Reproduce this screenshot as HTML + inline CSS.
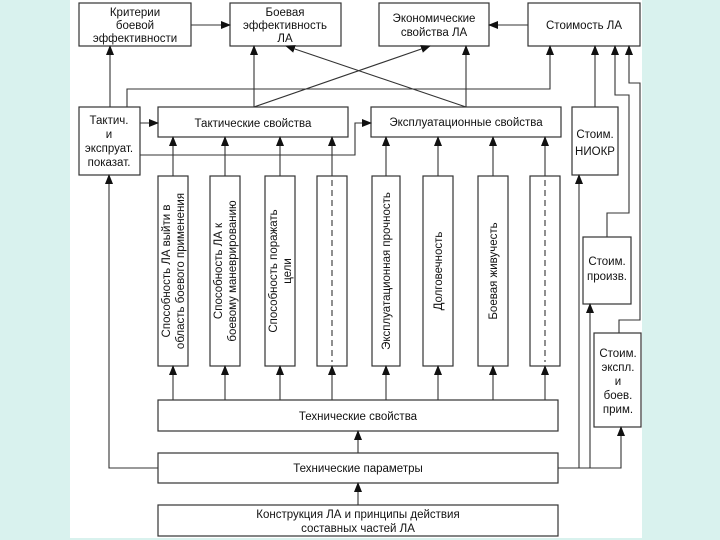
<!DOCTYPE html>
<html><head><meta charset="utf-8"><style>
html,body{margin:0;padding:0;background:#d9f2ee;}
svg{display:block;}
text{font-family:"Liberation Sans",sans-serif;font-size:11.5px;fill:#111;}
</style></head><body>
<svg width="720" height="540" viewBox="0 0 720 540" xmlns="http://www.w3.org/2000/svg">
<defs>
<marker id="a" markerWidth="10" markerHeight="8" refX="9" refY="4" orient="auto" markerUnits="userSpaceOnUse">
<path d="M0,0 L10,4 L0,8 z" fill="#111"/></marker>
</defs>
<rect x="70" y="0" width="572" height="538" fill="#fff"/>
<g fill="#fff" stroke="#333" stroke-width="1.2">
<rect x="79" y="3" width="112" height="43"/>
<rect x="230" y="3" width="111" height="43"/>
<rect x="379" y="3" width="110" height="43"/>
<rect x="528" y="3" width="112" height="43"/>
<rect x="79" y="107" width="61" height="68"/>
<rect x="158" y="107" width="190" height="30"/>
<rect x="371" y="107" width="190" height="30"/>
<rect x="572" y="107" width="46" height="68"/>
<rect x="583" y="237" width="48" height="67"/>
<rect x="594" y="333" width="47" height="94"/>
<rect x="158" y="176" width="30" height="190"/>
<rect x="210" y="176" width="30" height="190"/>
<rect x="265" y="176" width="30" height="190"/>
<rect x="317" y="176" width="30" height="190"/>
<rect x="372" y="176" width="28" height="190"/>
<rect x="423" y="176" width="30" height="190"/>
<rect x="478" y="176" width="30" height="190"/>
<rect x="530" y="176" width="30" height="190"/>
<rect x="158" y="400" width="400" height="31"/>
<rect x="158" y="453" width="400" height="30"/>
<rect x="158" y="505" width="400" height="31"/>
</g>
<g stroke="#333" stroke-width="1.1" fill="none">
<line x1="332" y1="180" x2="332" y2="362" stroke-dasharray="6,4"/>
<line x1="545" y1="180" x2="545" y2="362" stroke-dasharray="6,4"/>
</g>
<g stroke="#333" stroke-width="1.1" fill="none" marker-end="url(#a)">
<line x1="191" y1="25" x2="230" y2="25"/>
<line x1="528" y1="25" x2="489" y2="25"/>
<line x1="110" y1="107" x2="110" y2="46"/>
<polyline points="127,107 127,89 550,89 550,46"/>
<line x1="254" y1="107" x2="254" y2="46"/>
<line x1="254" y1="107" x2="430" y2="46"/>
<line x1="466" y1="107" x2="466" y2="46"/>
<line x1="466" y1="107" x2="286" y2="46"/>
<line x1="140" y1="123" x2="158" y2="123"/>
<polyline points="140,155 355,155 355,123 371,123"/>
<line x1="595" y1="107" x2="595" y2="46"/>
<polyline points="607,237 607,213 629,213 629,95 615,95 615,46"/>
<polyline points="619,333 619,320 640,320 640,83 629,83 629,46"/>
<line x1="173" y1="176" x2="173" y2="137"/>
<line x1="225" y1="176" x2="225" y2="137"/>
<line x1="280" y1="176" x2="280" y2="137"/>
<line x1="332" y1="176" x2="332" y2="137"/>
<line x1="386" y1="176" x2="386" y2="137"/>
<line x1="438" y1="176" x2="438" y2="137"/>
<line x1="493" y1="176" x2="493" y2="137"/>
<line x1="545" y1="176" x2="545" y2="137"/>
<line x1="173" y1="400" x2="173" y2="366"/>
<line x1="225" y1="400" x2="225" y2="366"/>
<line x1="280" y1="400" x2="280" y2="366"/>
<line x1="332" y1="400" x2="332" y2="366"/>
<line x1="386" y1="400" x2="386" y2="366"/>
<line x1="438" y1="400" x2="438" y2="366"/>
<line x1="493" y1="400" x2="493" y2="366"/>
<line x1="545" y1="400" x2="545" y2="366"/>
<line x1="358" y1="453" x2="358" y2="431"/>
<line x1="358" y1="505" x2="358" y2="483"/>
<polyline points="158,468 109,468 109,175"/>
<polyline points="579,468 579,175"/>
<polyline points="590,468 590,304"/>
<polyline points="558,468 621,468 621,427"/>
</g>
<g text-anchor="middle">
<text x="135" y="16">Критерии</text><text x="135" y="29">боевой</text><text x="135" y="42">эффективности</text>
<text x="285" y="16">Боевая</text><text x="285" y="29">эффективность</text><text x="285" y="42">ЛА</text>
<text x="434" y="22">Экономические</text><text x="434" y="36">свойства ЛА</text>
<text x="584" y="29">Стоимость ЛА</text>
<text x="109" y="124">Тактич.</text><text x="109" y="138">и</text><text x="109" y="152">экспруат.</text><text x="109" y="166">показат.</text>
<text x="253" y="127">Тактические свойства</text>
<text x="466" y="126">Эксплуатационные свойства</text>
<text x="595" y="138">Стоим.</text><text x="595" y="155">НИОКР</text>
<text x="607" y="265">Стоим.</text><text x="607" y="280">произв.</text>
<text x="618" y="357">Стоим.</text><text x="618" y="371">экспл.</text><text x="618" y="385">и</text><text x="618" y="399">боев.</text><text x="618" y="413">прим.</text>
<text x="358" y="420">Технические свойства</text>
<text x="358" y="472">Технические параметры</text>
<text x="358" y="518">Конструкция ЛА и принципы действия</text><text x="358" y="532">составных частей ЛА</text>
<g transform="translate(173,271) rotate(-90)"><text x="0" y="-3">Способность ЛА выйти в</text><text x="0" y="11">область боевого применения</text></g>
<g transform="translate(225,271) rotate(-90)"><text x="0" y="-3">Способность ЛА к</text><text x="0" y="11">боевому маневрированию</text></g>
<g transform="translate(280,271) rotate(-90)"><text x="0" y="-3">Способность поражать</text><text x="0" y="11">цели</text></g>
<g transform="translate(386,271) rotate(-90)"><text x="0" y="4">Эксплуатационная прочность</text></g>
<g transform="translate(438,271) rotate(-90)"><text x="0" y="4">Долговечность</text></g>
<g transform="translate(493,271) rotate(-90)"><text x="0" y="4">Боевая живучесть</text></g>
</g>
</svg>
</body></html>
